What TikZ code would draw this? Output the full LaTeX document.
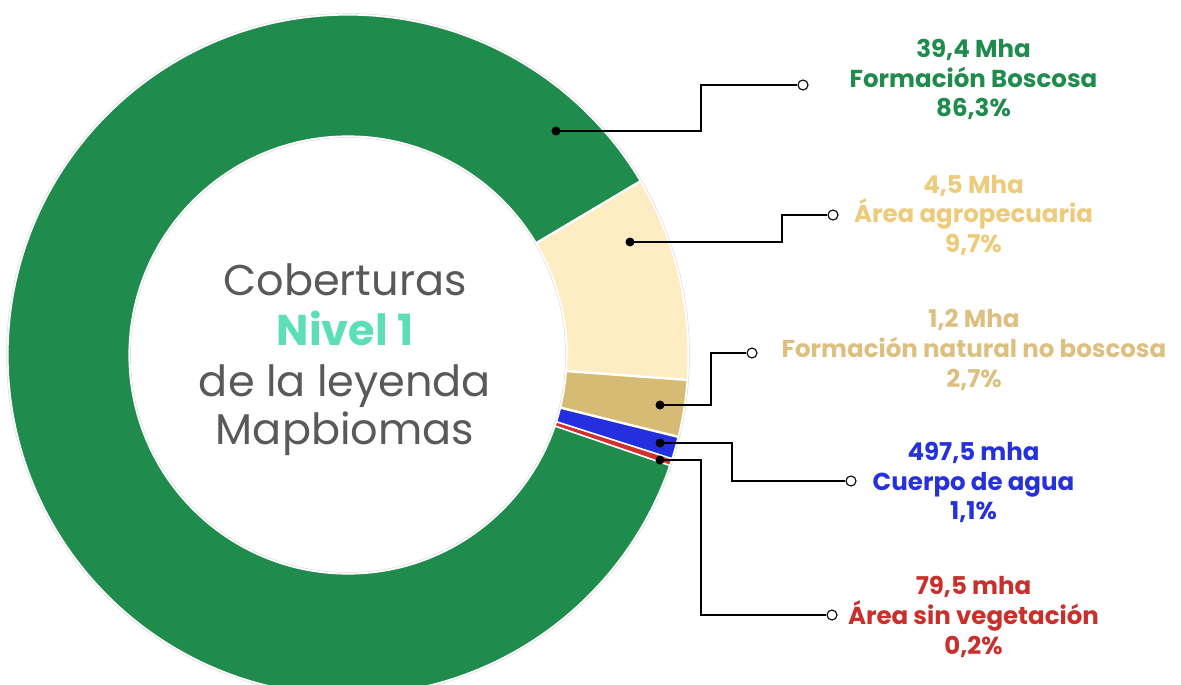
\documentclass[tikz,border=0pt]{standalone}
\usepackage{fontspec}
\setmainfont{Poppins}
\usetikzlibrary{calc}
\definecolor{cgreen}{HTML}{1F8B4C}
\definecolor{ccream}{HTML}{FEEDC2}
\definecolor{ctan}{HTML}{D6BB74}
\definecolor{cblue}{HTML}{2430E0}
\definecolor{cred}{HTML}{D32F2F}
\definecolor{tcream}{HTML}{EDCB7B}
\definecolor{ttan}{HTML}{DDC07F}
\definecolor{tblue}{HTML}{2531DC}
\definecolor{tred}{HTML}{C9302C}
\definecolor{cgray}{HTML}{58595B}
\definecolor{cmint}{HTML}{5CDFB7}
\begin{document}
\begin{tikzpicture}[x=1pt,y=-1pt,
  sep/.style={draw=white,line width=2.4pt},
  thinsep/.style={draw=white,line width=1.6pt},
  conn/.style={line width=1.8pt},
  dot/.style={circle,fill=black,inner sep=0pt,minimum size=9pt},
  odot/.style={circle,draw=black,fill=white,line width=1.1pt,inner sep=0pt,minimum size=10pt},
  lab/.style={anchor=base,inner sep=0pt,font=\fontsize{24.5}{29}\selectfont\bfseries},
  midtext/.style={anchor=base,inner sep=0pt,text=cgray,font=\fontsize{43}{50}\selectfont}
]
\useasboundingbox (0,0) rectangle (1181,685);
\clip (0,0) rectangle (1181,685);
\coordinate (O) at (348,355);
\def\Ro{340pt}\def\Ri{219pt}
\newcommand\donutseg[3]{\fill[#3] ($(O)+(#1:\Ro)$) arc[start angle=#1,end angle=#2,radius=\Ro] -- ($(O)+(#2:\Ri)$) arc[start angle=#2,end angle=#1,radius=\Ri] -- cycle;}
\newcommand\radial[2]{\draw[#2] ($(O)+(#1:\Ri-3pt)$) -- ($(O)+(#1:\Ro+3pt)$);}
% segments
\donutseg{30.72}{341.2}{cgreen}
\donutseg{-4.2}{30.72}{ccream}
\donutseg{-13.92}{-4.2}{ctan}
\donutseg{-17.9}{-13.92}{cblue}
\donutseg{-18.8}{-17.9}{cred}
\radial{30.72}{sep}
\radial{-4.2}{sep}
\radial{-13.92}{sep}
\radial{-17.75}{thinsep}
\radial{-18.95}{thinsep}
% outline
\draw[white,line width=1.2pt] (O) circle[radius=\Ro];
\draw[white,line width=1.2pt] (O) circle[radius=\Ri];
\draw[gray!30,line width=0.5pt] (O) circle[radius=\Ro+1.5pt];
\draw[gray!30,line width=0.5pt] (O) circle[radius=\Ri-1.5pt];
% centre text
\node[midtext] (t1) at (345,295) {Coberturas};
\node[midtext,text=cmint,font=\fontsize{43}{50}\selectfont\bfseries] (t2) at (345,345) {Nivel 1};
\node[midtext] (t3) at (345,396) {de la leyenda};
\node[midtext] (t4) at (345,444) {Mapbiomas};
% connector end points
\node[dot] (d1) at (556,131) {};
\node[dot] (d2) at (630,242) {};
\node[dot] (d3) at (660,405) {};
\node[dot] (d4) at (660,443) {};
\node[dot] (d5) at (660,460) {};
\coordinate (k1) at (701,131);
\coordinate (k2) at (782,242);
\coordinate (k3) at (711,405);
\coordinate (k4) at (732,443);
\coordinate (k5) at (701,460);
\node[odot] (e1) at (803,85) {};
\node[odot] (e2) at (833,215) {};
\node[odot] (e3) at (752,353) {};
\node[odot] (e4) at (851,481) {};
\node[odot] (e5) at (832,615) {};
\draw[conn] (d1.center) -- (k1) |- (e1.west);
\draw[conn] (d2.center) -- (k2) |- (e2.west);
\draw[conn] (d3.center) -- (k3) |- (e3.west);
\draw[conn] (d4.center) -- (k4) |- (e4.west);
\draw[conn] (d5.center) -- (k5) |- (e5.west);
% labels
\node[lab,text=cgreen] (l1a) at (973.5,58) {39,4 Mha};
\node[lab,text=cgreen] (l1b) at (973.5,88) {Formación Boscosa};
\node[lab,text=cgreen] (l1c) at (973.5,117) {86,3\%};
\node[lab,text=tcream] (l2a) at (973.5,193) {4,5 Mha};
\node[lab,text=tcream] (l2b) at (973.5,222) {Área agropecuaria};
\node[lab,text=tcream] (l2c) at (973.5,252) {9,7\%};
\node[lab,text=ttan] (l3a) at (974,327) {1,2 Mha};
\node[lab,text=ttan] (l3b) at (974,357) {Formación natural no boscosa};
\node[lab,text=ttan] (l3c) at (974,387) {2,7\%};
\node[lab,text=tblue] (l4a) at (973.5,460) {497,5 mha};
\node[lab,text=tblue] (l4b) at (973.5,490) {Cuerpo de agua};
\node[lab,text=tblue] (l4c) at (973.5,519) {1,1\%};
\node[lab,text=tred] (l5a) at (973.5,594) {79,5 mha};
\node[lab,text=tred] (l5b) at (973.5,624) {Área sin vegetación};
\node[lab,text=tred] (l5c) at (973.5,654) {0,2\%};
\end{tikzpicture}
\end{document}
